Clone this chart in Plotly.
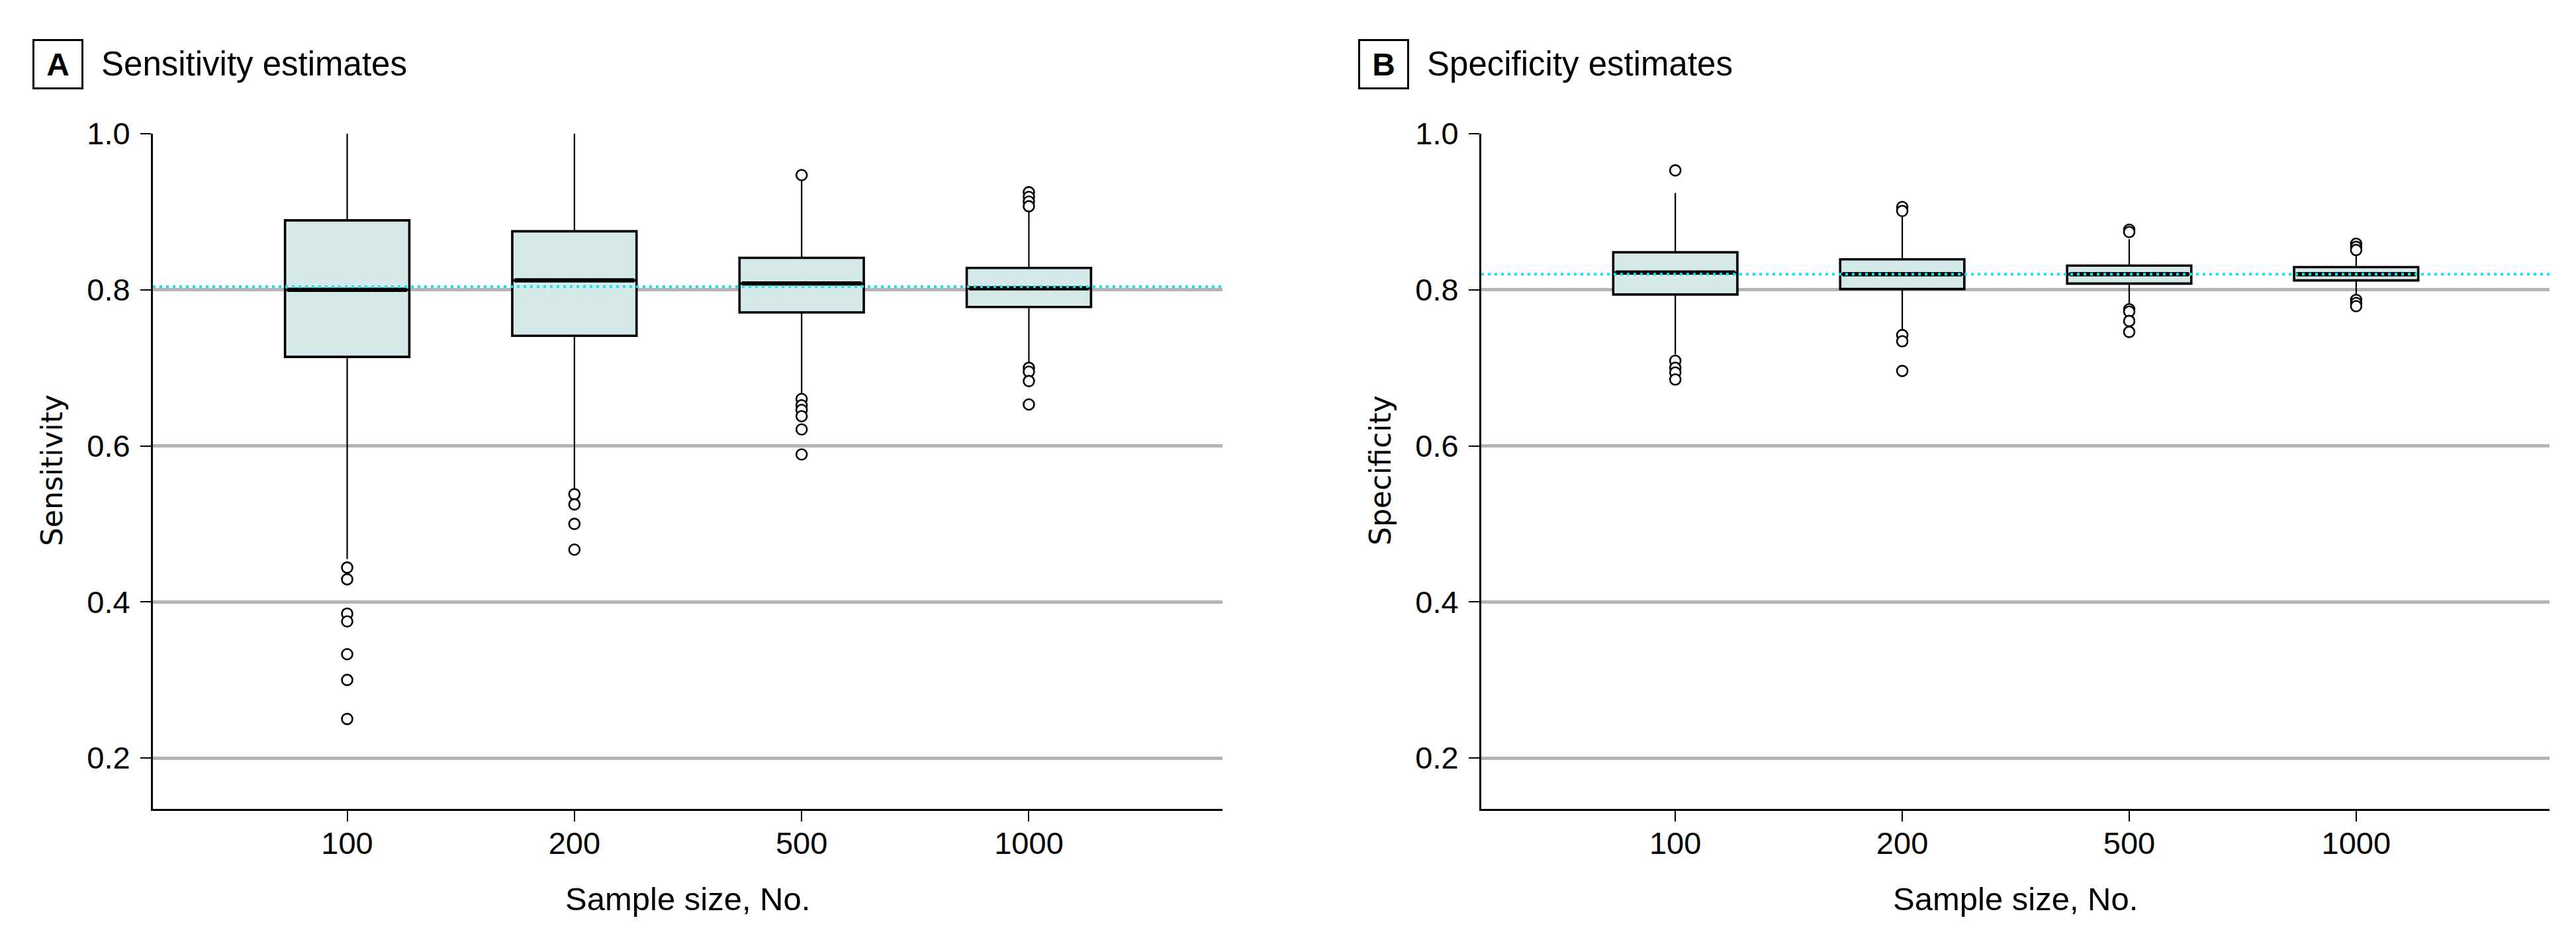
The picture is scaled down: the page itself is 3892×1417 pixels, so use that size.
import plotly.graph_objects as go

# ---------------- data ----------------
categories = ["100", "200", "500", "1000"]

sens_q1 = [0.714, 0.741, 0.771, 0.778]
sens_median = [0.800, 0.812, 0.808, 0.802]
sens_q3 = [0.889, 0.875, 0.841, 0.828]
sens_lower = [0.455, 0.545, 0.667, 0.706]
sens_upper = [1.000, 1.000, 0.940, 0.900]
sens_outliers = {
    "100": [0.444, 0.429, 0.385, 0.375, 0.333, 0.300, 0.250],
    "200": [0.538, 0.525, 0.500, 0.467],
    "500": [0.947, 0.660, 0.652, 0.646, 0.638, 0.621, 0.589],
    "1000": [0.925, 0.919, 0.913, 0.907, 0.700, 0.695, 0.683, 0.653],
}
sens_reference = 0.804

spec_q1 = [0.794, 0.801, 0.808, 0.812]
spec_median = [0.822, 0.820, 0.820, 0.820]
spec_q3 = [0.848, 0.839, 0.831, 0.829]
spec_lower = [0.717, 0.748, 0.779, 0.790]
spec_upper = [0.924, 0.895, 0.865, 0.845]
spec_outliers = {
    "100": [0.953, 0.709, 0.700, 0.694, 0.685],
    "200": [0.906, 0.901, 0.742, 0.734, 0.696],
    "500": [0.877, 0.874, 0.775, 0.772, 0.760, 0.746],
    "1000": [0.859, 0.855, 0.851, 0.787, 0.783, 0.779],
}
spec_reference = 0.820

y_ticks = [0.2, 0.4, 0.6, 0.8, 1.0]
y_tick_labels = ["0.2", "0.4", "0.6", "0.8", "1.0"]

# ---------------- styling ----------------
W, H = 3892, 1417
FONT = "Liberation Sans, Arial, sans-serif"
BOX_FILL = "#d5e9e9"
GRID = "#b4b4b4"
CYAN = "#10e4ef"
BOX_W = 0.547

PLOT_TOP = 194
PLOT_BOTTOM = 1214
TITLE_Y = 89
YTITLE_Y = 703
XTITLE_Y = 1350

fig = go.Figure()


def add_panel(xa, ya, q1, med, q3, lo, up, outl):
    # thin whiskers + filled box
    fig.add_trace(go.Box(
        x=categories, q1=q1, median=med, q3=q3, lowerfence=lo, upperfence=up,
        xaxis=xa, yaxis=ya, fillcolor=BOX_FILL, line=dict(color="black", width=2.2),
        whiskerwidth=0, boxpoints=False, width=BOX_W, showlegend=False, hoverinfo="skip"))
    # thicker box outline
    fig.add_trace(go.Box(
        x=categories, q1=q1, median=med, q3=q3, lowerfence=q1, upperfence=q3,
        xaxis=xa, yaxis=ya, fillcolor="rgba(0,0,0,0)", line=dict(color="black", width=3.6),
        whiskerwidth=0, boxpoints=False, width=BOX_W, showlegend=False, hoverinfo="skip"))
    # thick median
    fig.add_trace(go.Box(
        x=categories, q1=med, median=med, q3=med, lowerfence=med, upperfence=med,
        xaxis=xa, yaxis=ya, fillcolor="rgba(0,0,0,0)", line=dict(color="black", width=6.5),
        whiskerwidth=0, boxpoints=False, width=BOX_W - 0.02, showlegend=False, hoverinfo="skip"))
    # outliers
    xs, ys = [], []
    for c in categories:
        for v in outl[c]:
            xs.append(c)
            ys.append(v)
    fig.add_trace(go.Scatter(
        x=xs, y=ys, mode="markers", xaxis=xa, yaxis=ya, showlegend=False, hoverinfo="skip",
        marker=dict(symbol="circle", size=16, color="white", line=dict(color="black", width=2.6))))


add_panel("x", "y", sens_q1, sens_median, sens_q3, sens_lower, sens_upper, sens_outliers)
add_panel("x2", "y2", spec_q1, spec_median, spec_q3, spec_lower, spec_upper, spec_outliers)

# reference lines (dotted cyan)
for xr_, yr_, val in [("x domain", "y", sens_reference), ("x2 domain", "y2", spec_reference)]:
    fig.add_shape(type="line", xref=xr_, yref=yr_, x0=0, x1=1, y0=val, y1=val,
                  line=dict(color=CYAN, width=4, dash="4px,6px"), layer="above")

yr = [0.1347, 1.0]
xr = [-0.855, 3.852]
ydom = [(H - PLOT_BOTTOM) / H, (H - PLOT_TOP) / H]

axis_common = dict(showline=True, linecolor="black", linewidth=3, ticks="outside",
                   ticklen=16, tickwidth=2, tickcolor="black", automargin=False,
                   tickfont=dict(family=FONT, size=47, color="black"), zeroline=False)

fig.update_layout(
    width=W, height=H, margin=dict(l=0, r=0, t=0, b=0, autoexpand=False),
    paper_bgcolor="white", plot_bgcolor="white", boxmode="overlay",
    xaxis=dict(domain=[223 / W, 1839 / W], range=xr, type="category", showgrid=False,
               ticklabelstandoff=-7, **axis_common),
    xaxis2=dict(domain=[2230 / W, 3844 / W], range=xr, type="category", showgrid=False,
                anchor="y2", ticklabelstandoff=-7, **axis_common),
    yaxis=dict(domain=ydom, range=yr, tickvals=y_ticks, ticktext=y_tick_labels,
               showgrid=True, gridcolor=GRID, gridwidth=4.5, ticklabelstandoff=6, **axis_common),
    yaxis2=dict(domain=ydom, range=yr, tickvals=y_ticks, ticktext=y_tick_labels, anchor="x2",
                showgrid=True, gridcolor=GRID, gridwidth=4.5, ticklabelstandoff=6, **axis_common),
)

annotations = []
for left, letter, title, ytitle, plot_l, plot_r in [
    (42, "A", "Sensitivity estimates", "Sensitivity", 223, 1839),
    (2045, "B", "Specificity estimates", "Specificity", 2230, 3844),
]:
    annotations.append(dict(
        text="<b>" + letter + "</b>", x=(left + 37) / W, y=(H - TITLE_Y) / H, xref="paper", yref="paper",
        xanchor="center", yanchor="middle", showarrow=False, width=67, height=66,
        bordercolor="black", borderwidth=3, borderpad=2,
        font=dict(family=FONT, size=48, color="black")))
    annotations.append(dict(
        text=title, x=(left + 101) / W, y=(H - TITLE_Y) / H, xref="paper", yref="paper",
        xanchor="left", yanchor="middle", showarrow=False,
        font=dict(family=FONT, size=51, color="black")))
    annotations.append(dict(
        text=ytitle, x=(plot_l - 153) / W, y=(H - YTITLE_Y) / H, xref="paper", yref="paper",
        xanchor="center", yanchor="middle", showarrow=False, textangle=-90,
        font=dict(family="DejaVu Sans, sans-serif", size=44, color="black")))
    annotations.append(dict(
        text="Sample size, No.", x=((plot_l + plot_r) / 2) / W, y=(H - XTITLE_Y) / H,
        xref="paper", yref="paper", xanchor="center", yanchor="middle", showarrow=False,
        font=dict(family=FONT, size=49, color="black")))

fig.update_layout(annotations=annotations)

fig.write_html("out.html")
